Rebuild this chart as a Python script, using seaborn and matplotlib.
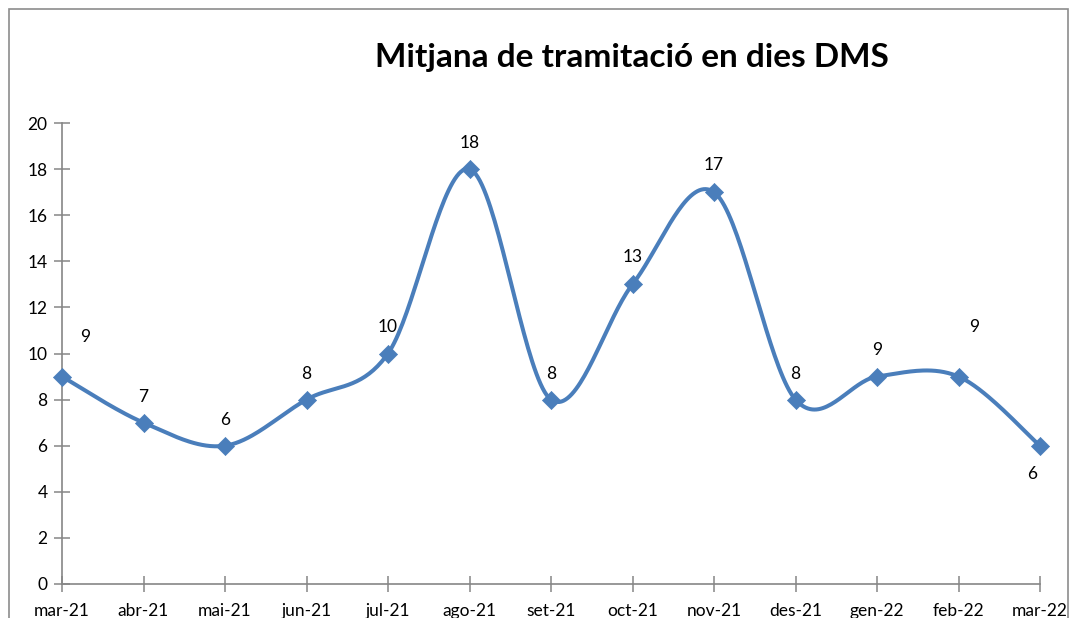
import numpy as np
import pandas as pd
import matplotlib
matplotlib.use("Agg")
import matplotlib.pyplot as plt
import seaborn as sns
from matplotlib.patches import Rectangle

months = ["mar-21", "abr-21", "mai-21", "jun-21", "jul-21", "ago-21", "set-21",
          "oct-21", "nov-21", "des-21", "gen-22", "feb-22", "mar-22"]
days = [9, 7, 6, 8, 10, 18, 8, 13, 17, 8, 9, 9, 6]
title = "Mitjana de tramitació en dies DMS"

# label offsets (pixels) relative to each point
label_dx = [23, 0, 0, 0, 0, 0, 0, 0, 0, 0, 0, 16, -8]
label_dy = [40, 26, 26, 26, 27, 26, 26, 27, 27, 26, 27, 50, -28]

sns.set_theme(style="white")
plt.rcParams["font.family"] = ["Lato", "DejaVu Sans"]

line_color = "#4A7EBB"
axis_color = "#868686"

df = pd.DataFrame({"pos": np.arange(len(months)), "days": days})


def smooth_curve(x, y, steps=40):
    """Cardinal (Catmull-Rom style) Bezier smoothing through every point."""
    x = np.asarray(x, float)
    y = np.asarray(y, float)
    n = len(x)
    px = np.concatenate([[x[0]], x, [x[-1]]])
    py = np.concatenate([[y[0]], y, [y[-1]]])
    xs, ys = [], []
    t = np.linspace(0, 1, steps)
    for i in range(n - 1):
        p0 = np.array([px[i + 1], py[i + 1]])
        p3 = np.array([px[i + 2], py[i + 2]])
        c1 = p0 + (np.array([px[i + 2], py[i + 2]]) - np.array([px[i], py[i]])) / 6
        c2 = p3 - (np.array([px[i + 3], py[i + 3]]) - np.array([px[i + 1], py[i + 1]])) / 6
        b = ((1 - t) ** 3)[:, None] * p0 + (3 * (1 - t) ** 2 * t)[:, None] * c1 \
            + (3 * (1 - t) * t ** 2)[:, None] * c2 + (t ** 3)[:, None] * p3
        if i > 0:
            b = b[1:]
        xs.append(b[:, 0])
        ys.append(b[:, 1])
    return np.concatenate(xs), np.concatenate(ys)


sx, sy = smooth_curve(df["pos"], df["days"])
curve = pd.DataFrame({"pos": sx, "days": sy})

fig = plt.figure(figsize=(10.7, 6.18), dpi=100)
ax = fig.add_axes([62 / 1070, 1 - 584 / 618, (1040 - 62) / 1070, (584 - 123) / 618])

sns.lineplot(data=curve, x="pos", y="days", ax=ax, color=line_color,
             linewidth=2.9, sort=False, estimator=None)
sns.scatterplot(data=df, x="pos", y="days", ax=ax, marker="D", s=85,
                color=line_color, edgecolor=line_color, linewidth=0.5, zorder=5,
                clip_on=False)

for i, v in enumerate(days):
    ax.annotate(str(v), xy=(i, v), xytext=(label_dx[i] * 0.72, label_dy[i] * 0.72),
                textcoords="offset points", ha="center", va="center",
                fontsize=12.5, color="black")

ax.set_xlim(0, len(months) - 1)
ax.set_ylim(0, 20)
ax.set_xticks(range(len(months)))
ax.set_xticklabels(months)
ax.set_yticks(range(0, 21, 2))
ax.set_xlabel("")
ax.set_ylabel("")

for side in ["top", "right"]:
    ax.spines[side].set_visible(False)
for side in ["left", "bottom"]:
    ax.spines[side].set_color(axis_color)
    ax.spines[side].set_linewidth(1.2)

ax.tick_params(axis="both", direction="inout", length=11, width=1.1,
               color=axis_color, labelsize=12.5, labelcolor="black",
               bottom=True, left=True)
ax.tick_params(axis="y", pad=5)
ax.tick_params(axis="x", pad=8)

fig.text(632 / 1070, 1 - 57 / 618, title, ha="center", va="center",
         fontsize=24, fontweight="bold", color="black")

# chart area border
fig.patches.append(Rectangle((9 / 1070, -0.1), (1068 - 9) / 1070, 1 - 9 / 618 + 0.1,
                             transform=fig.transFigure, fill=False,
                             edgecolor="#8C8C8C", linewidth=1.2, clip_on=False))

fig.savefig("out.png", dpi=100)
